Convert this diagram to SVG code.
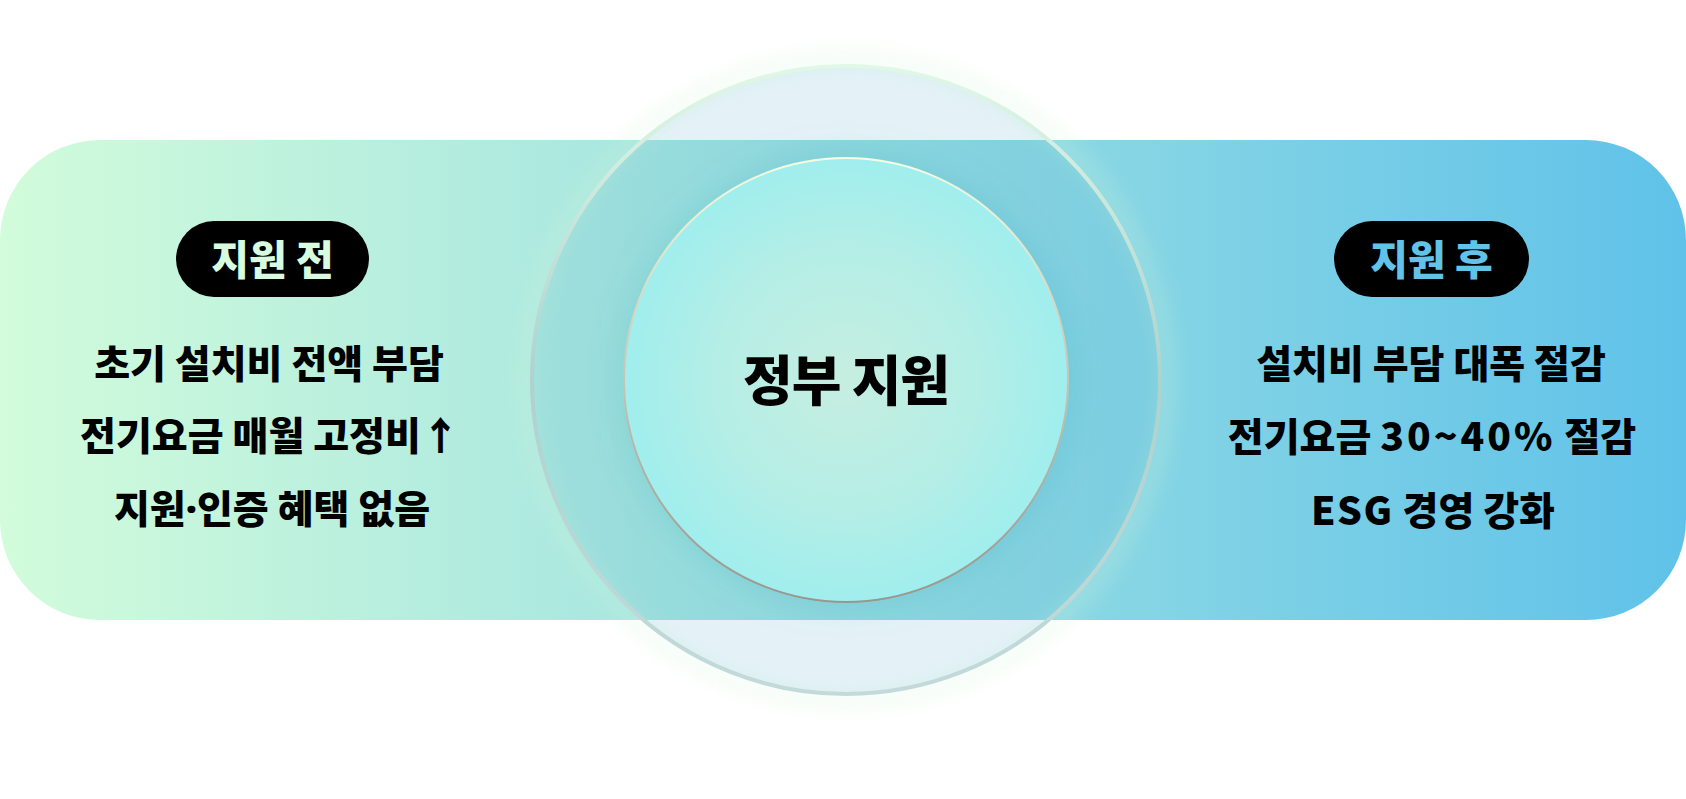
<svg xmlns="http://www.w3.org/2000/svg" width="1686" height="799" viewBox="0 0 1686 799">
  <defs>
    <linearGradient id="bandGrad" x1="0" y1="0" x2="1686" y2="0" gradientUnits="userSpaceOnUse">
      <stop offset="0" stop-color="#d2fcdb"/>
      <stop offset="1" stop-color="#60c2e9"/>
    </linearGradient>
    <radialGradient id="innerFill" cx="0.5" cy="0.5" r="0.5">
      <stop offset="0" stop-color="#c6eee0"/>
      <stop offset="0.6" stop-color="#b4eee6"/>
      <stop offset="1" stop-color="#a0eeee"/>
    </radialGradient>
    <linearGradient id="innerStroke" x1="0" y1="0" x2="0" y2="1">
      <stop offset="0" stop-color="#f6fde2"/>
      <stop offset="0.5" stop-color="#c6c4b4"/>
      <stop offset="1" stop-color="#98968e"/>
    </linearGradient>
    <linearGradient id="outerStroke" x1="0" y1="0" x2="0" y2="1">
      <stop offset="0" stop-color="#e0f8e6"/>
      <stop offset="0.5" stop-color="#aed2ce"/>
      <stop offset="1" stop-color="#c4dada"/>
    </linearGradient>
    <filter id="glow" x="-30%" y="-30%" width="160%" height="160%">
      <feGaussianBlur stdDeviation="10"/>
    </filter>
    <filter id="innerShadow" x="-30%" y="-30%" width="160%" height="160%">
      <feDropShadow dx="0" dy="0" stdDeviation="18" flood-color="#2a8a9a" flood-opacity="0.15"/>
    </filter>
  </defs>
  <style>
    .txt { font-family: "Noto Sans CJK KR", "Noto Sans", sans-serif; font-weight: 900; text-anchor: middle; }
    .body { font-size: 39px; fill: #000; }
    .pill { fill: #000; }
    .pilltxt { font-size: 41px; }
    .title { font-size: 54px; fill: #000; letter-spacing: -1px; }
    .dot { font-family: "Noto Sans", sans-serif; }
    .num { letter-spacing: 3px; }
    .lat { letter-spacing: 1.5px; }
  </style>

  <g id="band">
    <rect x="0" y="140" width="1686" height="480" rx="100" ry="100" fill="url(#bandGrad)"/>
  </g>

  <g id="connectors"></g>

  <g id="node-center">
    <circle cx="846" cy="380" r="320" fill="none" stroke="#d4f5d8" stroke-width="16" opacity="0.3" filter="url(#glow)"/>
    <circle cx="846" cy="380" r="314" fill="#4ba8ca" fill-opacity="0.15" stroke="url(#outerStroke)" stroke-width="4"/>
    <circle cx="846" cy="380" r="222" fill="url(#innerFill)" stroke="url(#innerStroke)" stroke-width="2" filter="url(#innerShadow)"/>
    <text class="txt title" x="846" y="401">정부 지원</text>
  </g>

  <g id="node-before">
    <rect class="pill" x="176" y="221" width="193" height="76" rx="38" ry="38"/>
    <text class="txt pilltxt" x="272.5" y="275" fill="#d8fce0">지원 전</text>
    <text class="txt body" x="269" y="378">초기 설치비 전액 부담</text>
    <text class="txt body" x="270" y="450">전기요금 매월 고정비↑</text>
    <text class="txt body" x="272" y="523">지원<tspan class="dot">·</tspan>인증 혜택 없음</text>
  </g>

  <g id="node-after">
    <rect class="pill" x="1334" y="221" width="195" height="76" rx="38" ry="38"/>
    <text class="txt pilltxt" x="1431.5" y="275" fill="#62c3e9">지원 후</text>
    <text class="txt body" x="1431" y="378">설치비 부담 대폭 절감</text>
    <text class="txt body" x="1432" y="451">전기요금 <tspan class="num">30~40%</tspan> 절감</text>
    <text class="txt body" x="1433" y="525"><tspan class="lat">ESG</tspan> 경영 강화</text>
  </g>
</svg>
